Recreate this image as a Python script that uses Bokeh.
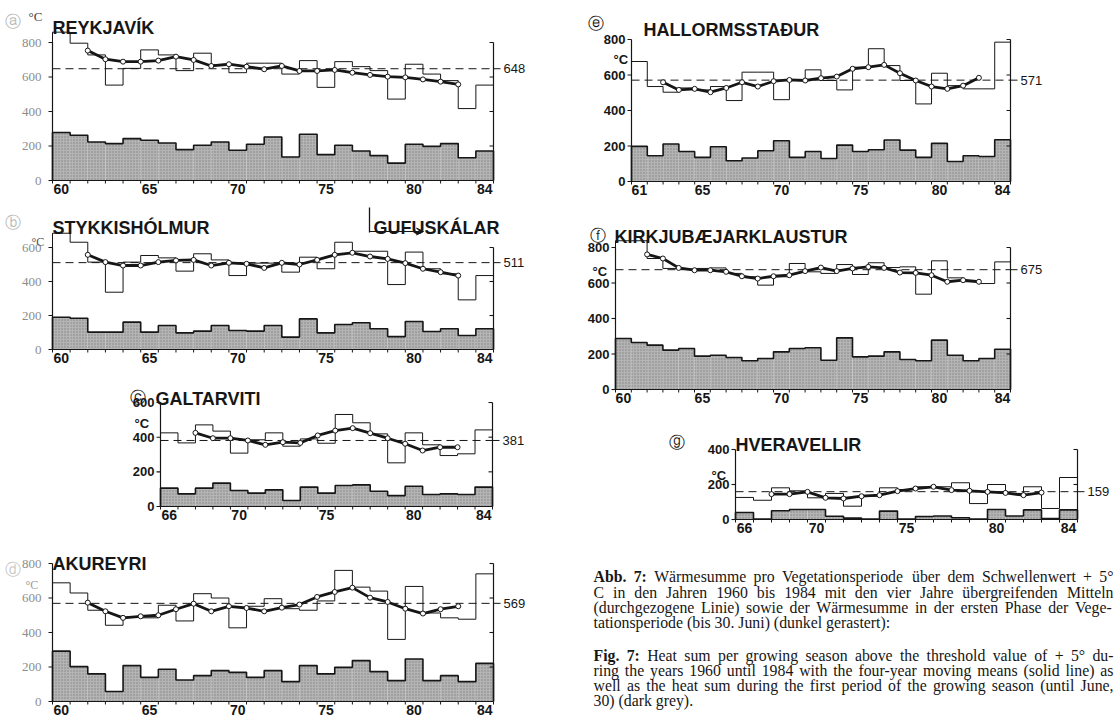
from bokeh.plotting import figure
from bokeh.models import Range1d, Arrow, VeeHead
from bokeh.embed import file_html
from bokeh.resources import INLINE
from bokeh.core.properties import value

# ---------------- data (heat sums, degC) ----------------
REY_FULL = [860, 796, 728, 553, 650, 757, 728, 637, 738, 670, 625, 680, 680, 617, 695, 540, 689, 660, 637, 472, 674, 617, 579, 417, 553]
REY_FIRST = [278, 262, 223, 214, 243, 233, 217, 179, 204, 223, 175, 210, 252, 136, 268, 150, 204, 171, 144, 101, 210, 198, 214, 132, 171]
REY_MA = [753, 703, 689, 689, 695, 718, 699, 664, 674, 660, 645, 664, 635, 635, 641, 625, 612, 602, 598, 586, 573, 557]
REY_MEAN = 648

STY_FULL = [684, 631, 514, 337, 514, 553, 539, 461, 563, 527, 435, 508, 508, 455, 543, 475, 631, 578, 578, 382, 573, 475, 445, 292, 435]
STY_FIRST = [190, 184, 102, 102, 161, 102, 141, 98, 108, 141, 112, 108, 141, 73, 180, 98, 147, 157, 122, 76, 165, 106, 122, 82, 122]
STY_MA = [557, 514, 494, 494, 514, 524, 527, 494, 510, 504, 480, 510, 500, 527, 557, 569, 547, 533, 508, 475, 455, 435]
STY_MEAN = 511

GAL_FULL = [425, 367, 471, 435, 308, 385, 425, 348, 390, 365, 531, 483, 419, 252, 425, 356, 294, 304, 442]
GAL_FIRST = [106, 73, 106, 135, 92, 77, 96, 35, 112, 77, 121, 125, 88, 63, 117, 69, 73, 69, 112]
GAL_MA = [425, 394, 394, 381, 356, 371, 367, 410, 438, 452, 423, 394, 362, 323, 342, 342]
GAL_MEAN = 381

AKU_FULL = [688, 629, 529, 442, 490, 485, 558, 467, 625, 600, 427, 552, 596, 538, 529, 583, 760, 663, 640, 360, 667, 513, 485, 477, 740]
AKU_FIRST = [292, 202, 160, 58, 208, 140, 187, 125, 150, 179, 169, 140, 179, 115, 208, 160, 198, 237, 173, 121, 246, 121, 150, 115, 221]
AKU_MA = [573, 523, 485, 494, 500, 535, 567, 523, 552, 542, 523, 544, 562, 606, 635, 660, 602, 577, 538, 510, 535, 552]
AKU_MEAN = 569

HAL_FULL = [676, 535, 503, 527, 516, 535, 456, 616, 616, 461, 569, 629, 569, 516, 644, 748, 653, 569, 437, 610, 540, 522, 522, 785]
HAL_FIRST = [198, 145, 211, 169, 136, 196, 117, 132, 173, 230, 136, 169, 130, 205, 169, 179, 234, 177, 136, 215, 113, 145, 141, 235]
HAL_MA = [559, 516, 522, 503, 527, 559, 535, 565, 572, 569, 582, 591, 635, 644, 657, 610, 569, 535, 522, 540, 584]
HAL_MEAN = 571

KIR_FULL = [838, 838, 738, 682, 678, 682, 685, 654, 635, 588, 635, 710, 663, 654, 704, 648, 714, 687, 691, 537, 725, 629, 607, 597, 719]
KIR_FIRST = [287, 265, 250, 222, 231, 188, 193, 180, 162, 175, 212, 231, 235, 165, 291, 184, 188, 212, 169, 162, 278, 193, 162, 175, 227]
KIR_MA = [761, 738, 685, 672, 672, 663, 638, 625, 638, 644, 667, 687, 667, 682, 691, 685, 659, 657, 644, 607, 616, 607]
KIR_MEAN = 675

HVE_FULL = [126, 110, 181, 164, 124, 149, 76, 133, 181, 171, 187, 187, 210, 91, 200, 149, 187, 63, 240]
HVE_FIRST = [40, 3, 50, 57, 57, 19, 8, 3, 48, 3, 17, 20, 10, 3, 57, 20, 55, 5, 55]
HVE_MA = [145, 145, 158, 124, 120, 133, 139, 162, 177, 187, 168, 164, 158, 152, 139, 154]
HVE_MEAN = 159

LAST_YEAR = 84
X_TICKS_60 = [60, 65, 70, 75, 80, 84]
X_TICKS_61 = [61, 65, 70, 75, 80, 84]
X_TICKS_66 = [66, 70, 75, 80, 84]

CAPTION_DE = [
    ("Abb. 7:", "Wärmesumme pro Vegetationsperiode über dem Schwellenwert + 5°"),
    ("", "C in den Jahren 1960 bis 1984 mit den vier Jahre übergreifenden Mitteln"),
    ("", "(durchgezogene Linie) sowie der Wärmesumme in der ersten Phase der Vege-"),
    ("", "tationsperiode (bis 30. Juni) (dunkel gerastert):"),
]
CAPTION_EN = [
    ("Fig. 7:", "Heat sum per growing season above the threshold value of + 5° du-"),
    ("", "ring the years 1960 until 1984 with the four-year moving means (solid line) as"),
    ("", "well as the heat sum during the first period of the growing season (until June,"),
    ("", "30) (dark grey)."),
]

# ---------------- style ----------------
SANS = "Liberation Sans"
SERIF = "Liberation Serif"
INK = "#161616"
SHADE = "#b4b4b4"
W, H = 1117, 719

p = figure(width=W, height=H, x_range=Range1d(0, W), y_range=Range1d(0, H), min_border=0,
           x_axis_type=None, y_axis_type=None, toolbar_location=None, output_backend="svg")
p.outline_line_color = None
p.background_fill_color = "white"
p.border_fill_color = "white"


def txt(text, px, py, size="13px", bold=False, color=INK, font=SANS, align="left", baseline="alphabetic"):
    p.text(x=[px], y=[H - py], text=[text], text_font=value(font), text_font_size=size,
           text_font_style="bold" if bold else "normal", text_color=color,
           text_align=align, text_baseline=baseline)


def step_path(years, vals):
    xs = [years[0] - 0.5]
    ys = [0]
    for yr, v in zip(years, vals):
        xs += [yr - 0.5, yr + 0.5]
        ys += [v, v]
    xs.append(years[-1] + 0.5)
    ys.append(0)
    return xs, ys


def panel(key, first_year, full, first, ma, mean, axmax, geo, xticks, faded=False):
    FL, FR, FB, s = geo          # frame left/right/bottom (canvas px) and px per degC
    years = list(range(first_year, LAST_YEAR + 1))
    x0, x1 = years[0] - 0.5, years[-1] + 0.5
    k = (x1 - x0) / (FR - FL)    # years per px
    p.extra_x_ranges = {**p.extra_x_ranges, key: Range1d(x0 - FL * k, x0 + (W - FL) * k)}
    p.extra_y_ranges = {**p.extra_y_ranges, key: Range1d((FB - H) / s, FB / s)}
    kw = dict(x_range_name=key, y_range_name=key)

    # first phase of season (dark raster)
    p.quad(left=[y - 0.5 for y in years], right=[y + 0.5 for y in years],
           bottom=0, top=first, fill_color=SHADE, line_color=None,
           hatch_pattern=".", hatch_color="#5a5a5a", hatch_alpha=0.55, hatch_scale=3, **kw)
    fx, fy = step_path(years, first)
    p.line(fx, fy, line_color=INK, line_width=1.6, **kw)

    # whole growing season
    sx, sy = step_path(years, full)
    p.line(sx, sy, line_color=INK, line_width=1.0, **kw)

    # long-term mean (dashed)
    p.segment(x0=[x0], y0=[mean], x1=[x1], y1=[mean], line_color=INK, line_width=1,
              line_dash="8 5", **kw)

    # four-year moving means
    mx = [first_year + 1.5 + i for i in range(len(ma))]
    p.line(mx, ma, line_color=INK, line_width=2.8, **kw)
    p.scatter(mx, ma, size=5, fill_color="white", line_color=INK, line_width=1, **kw)

    # ---- axes ----
    yt = list(range(0, axmax + 1, 200))
    n = len(yt)
    # left
    p.segment(x0=[x0], y0=[0], x1=[x0], y1=[axmax], line_color=INK, line_width=1.2, **kw)
    p.segment(x0=[x0 - 4 * k] * n, y0=yt, x1=[x0] * n, y1=yt, line_color=INK, line_width=1.1, **kw)
    p.text(x=[x0 - (11 if faded else 6) * k] * n, y=yt, text=[str(t) for t in yt],
           text_font=value(SERIF if faded else SANS), text_font_size="13px",
           text_font_style="normal" if faded else "bold",
           text_color="#8c8c8c" if faded else INK,
           text_align="right", text_baseline="middle", **kw)
    # right
    m = n - 1
    p.segment(x0=[x1], y0=[0], x1=[x1], y1=[axmax], line_color=INK, line_width=1.2, **kw)
    p.segment(x0=[x1 - 4 * k] * m, y0=yt[1:], x1=[x1] * m, y1=yt[1:], line_color=INK, line_width=1.1, **kw)
    p.segment(x0=[x1], y0=[mean], x1=[x1 + 7 * k], y1=[mean], line_color=INK, line_width=1, **kw)
    p.text(x=[x1 + 10 * k], y=[mean], text=[str(mean)], text_font=value(SANS), text_font_size="13px",
           text_color=INK, text_align="left", text_baseline="middle", **kw)
    # bottom
    bt = [y - 0.5 for y in years] + [x1]
    nb = len(bt)
    p.segment(x0=[x0], y0=[0], x1=[x1], y1=[0], line_color=INK, line_width=1.2, **kw)
    p.segment(x0=bt, y0=[0] * nb, x1=bt, y1=[-3 / s] * nb, line_color=INK, line_width=1, **kw)
    p.text(x=xticks, y=[-3 / s] * len(xticks), text=[str(t) for t in xticks],
           text_font=value(SANS), text_font_size="14px", text_font_style="bold",
           text_color=INK, text_align="center", text_baseline="top", **kw)


# geometry: frame left, frame right, zero line (px from top), px per degC
panel("a", 60, REY_FULL, REY_FIRST, REY_MA, REY_MEAN, 800, (52, 493, 180, 0.1725), X_TICKS_60, faded=True)
panel("b", 60, STY_FULL, STY_FIRST, STY_MA, STY_MEAN, 600, (52, 493, 349, 0.170), X_TICKS_60, faded=True)
panel("c", 66, GAL_FULL, GAL_FIRST, GAL_MA, GAL_MEAN, 600, (160, 492, 506, 0.1733), X_TICKS_66)
panel("d", 60, AKU_FULL, AKU_FIRST, AKU_MA, AKU_MEAN, 800, (52, 493, 701, 0.1725), X_TICKS_60, faded=True)
panel("e", 61, HAL_FULL, HAL_FIRST, HAL_MA, HAL_MEAN, 800, (631, 1010, 181, 0.1775), X_TICKS_61)
panel("f", 60, KIR_FULL, KIR_FIRST, KIR_MA, KIR_MEAN, 800, (615, 1010, 389, 0.1775), X_TICKS_60)
panel("g", 66, HVE_FULL, HVE_FIRST, HVE_MA, HVE_MEAN, 400, (735, 1077, 519, 0.175), X_TICKS_66)

# ---------------- panel titles and marks ----------------
TS = "18px"
txt("ⓐ", 4, 21, size="16px", color="#b8b8b8", font="DejaVu Sans")
txt("°C", 28, 16, size="13px", font=SERIF, color="#444444")
txt("REYKJAVÍK", 52, 27, size=TS, bold=True)

txt("ⓑ", 4, 222, size="16px", color="#b8b8b8", font="DejaVu Sans")
txt("°C", 31, 241, size="12px", font=SERIF, color="#555555")
txt("STYKKISHÓLMUR", 52, 227, size=TS, bold=True)
txt("GUFUSKÁLAR", 373, 227, size=TS, bold=True)
p.segment(x0=[369], y0=[H - 207], x1=[369], y1=[H - 232], line_color=INK, line_width=1.3)
p.add_layout(Arrow(x_start=369, y_start=H - 231, x_end=423, y_end=H - 231,
                   end=VeeHead(size=7, line_color=INK, fill_color=INK, line_width=1),
                   line_color=INK, line_width=1.2))

txt("ⓒ", 129, 397, size="16px", font="DejaVu Sans")
txt("°C", 134, 423, size="13px", bold=True)
txt("GALTARVITI", 155, 398, size=TS, bold=True)

txt("ⓓ", 4, 569, size="16px", color="#c8c8c8", font="DejaVu Sans")
txt("°C", 25, 584, size="12px", font=SERIF, color="#9a9a9a")
txt("AKUREYRI", 52, 563, size=TS, bold=True)

txt("ⓔ", 587, 23, size="16px", font="DejaVu Sans")
txt("°C", 613, 59, size="13px", bold=True)
txt("HALLORMSSTAÐUR", 643, 29, size=TS, bold=True)

txt("ⓕ", 589, 235, size="16px", font="DejaVu Sans")
txt("°C", 592, 271, size="13px", bold=True)
txt("KIRKJUBÆJARKLAUSTUR", 614, 236, size=TS, bold=True)

txt("ⓖ", 668, 442, size="16px", font="DejaVu Sans")
txt("°C", 711, 475, size="13px", bold=True)
txt("HVERAVELLIR", 735, 444, size=TS, bold=True)

# ---------------- caption (justified, Times metrics) ----------------
_REG = {" ": 250, "(": 333, ")": 333, "+": 564, ",": 250, "-": 333, ".": 250, ":": 278, "°": 400,
        "A": 722, "B": 667, "C": 667, "D": 722, "E": 611, "F": 556, "G": 722, "H": 722, "I": 333,
        "J": 389, "K": 722, "L": 611, "M": 889, "N": 722, "O": 722, "P": 556, "R": 667, "S": 556,
        "T": 611, "U": 722, "V": 722, "W": 944,
        "a": 444, "b": 500, "c": 444, "d": 500, "e": 444, "f": 333, "g": 500, "h": 500, "i": 278,
        "j": 278, "k": 500, "l": 278, "m": 778, "n": 500, "o": 500, "p": 500, "q": 500, "r": 333,
        "s": 389, "t": 278, "u": 500, "v": 500, "w": 722, "x": 500, "y": 500, "z": 444,
        "ä": 444, "ö": 500, "ü": 500}
_BOLD = {"A": 722, "b": 556, "F": 611, "i": 278, "g": 500, ".": 250, "7": 500, ":": 333}
CAP_SIZE = 15.8
CAP_L, CAP_R = 593, 1113


def word_w(word, bold):
    tbl = _BOLD if bold else _REG
    return sum(tbl.get(ch, 500) for ch in word) * CAP_SIZE / 1000.0


def caption_line(bold_part, rest, baseline, justify):
    tokens = [(w, True) for w in bold_part.split()] + [(w, False) for w in rest.split()]
    widths = [word_w(w, b) for w, b in tokens]
    if justify and len(tokens) > 1:
        gap = max((CAP_R - CAP_L - sum(widths)) / (len(tokens) - 1), 2.5)
    else:
        gap = 250 * CAP_SIZE / 1000.0
    x = CAP_L
    for (w, b), wd in zip(tokens, widths):
        txt(w, x, baseline, size=f"{CAP_SIZE}px", bold=b, font=SERIF)
        x += wd + gap


for lines, bases in ((CAPTION_DE, [576, 592, 607, 622]), (CAPTION_EN, [655, 670, 685, 700])):
    for i, ((bold_part, rest), b) in enumerate(zip(lines, bases)):
        caption_line(bold_part, rest, b, justify=(i < len(lines) - 1))

open("out.html", "w").write(file_html(p, INLINE))
